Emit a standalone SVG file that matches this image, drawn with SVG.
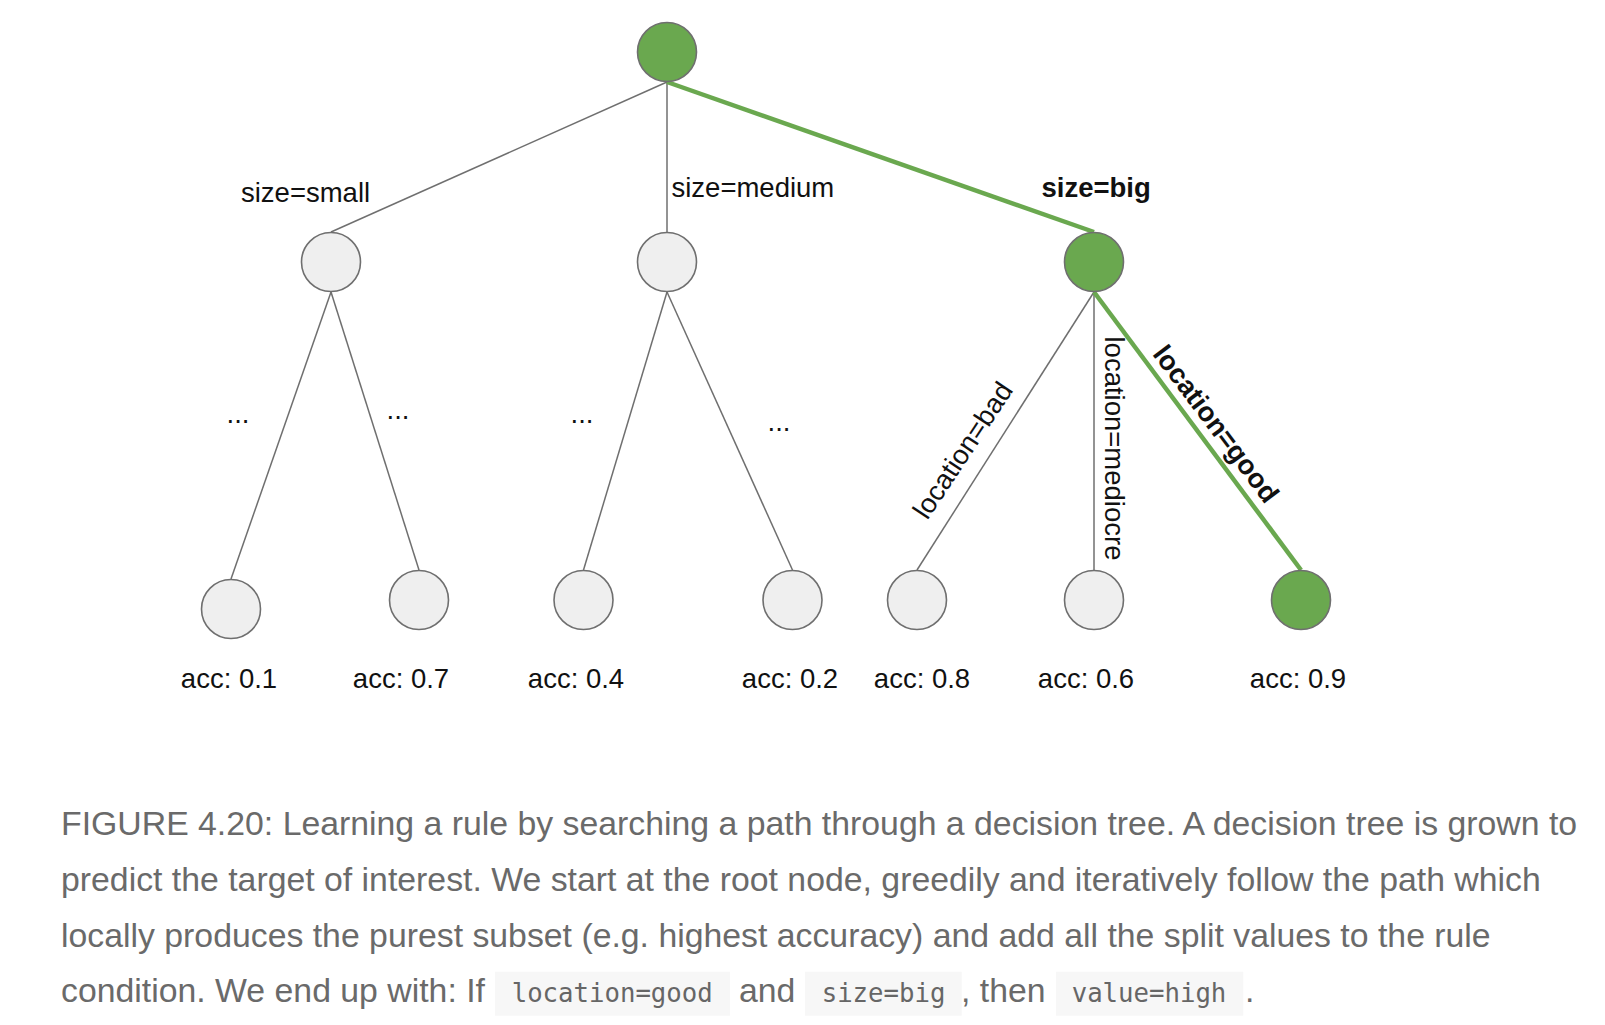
<svg xmlns="http://www.w3.org/2000/svg" width="1605" height="1025" viewBox="0 0 1605 1025">
<style>
.edge{stroke:#6f6f6f;stroke-width:1.5;fill:none}
.hot{stroke:#6aa84f;stroke-width:4.5;fill:none}
.n{fill:#efefef;stroke:#6f6f6f;stroke-width:1.6}
.g{fill:#6aa84f;stroke:#6f6f6f;stroke-width:1.6}
.lbl{font-family:"Liberation Sans",Arial,sans-serif;font-size:27.5px;fill:#111}
.b{font-weight:bold}
.acc{font-family:"Liberation Sans",Arial,sans-serif;font-size:27.5px;fill:#111;text-anchor:middle}
.cap{font-family:"Liberation Sans",Arial,sans-serif;font-size:33.8px;fill:#6a6a6a}
.code{font-family:"DejaVu Sans Mono","Liberation Mono",monospace;font-size:25.7px;fill:#666}
.cbg{fill:#f7f7f7}
</style>
<rect width="1605" height="1025" fill="#fff"/>
<g id="connectors">
<line class="edge" x1="667" y1="82" x2="331" y2="232"/>
<line class="edge" x1="667" y1="82" x2="667" y2="232"/>
<line class="edge" x1="331" y1="292" x2="231" y2="579"/>
<line class="edge" x1="331" y1="292" x2="419" y2="570"/>
<line class="edge" x1="667" y1="292" x2="583.5" y2="570"/>
<line class="edge" x1="667" y1="292" x2="792.5" y2="570"/>
<line class="edge" x1="1094" y1="292" x2="917" y2="570"/>
<line class="edge" x1="1094" y1="292" x2="1094" y2="570"/>
<line class="hot" x1="667" y1="82" x2="1094" y2="232"/>
<line class="hot" x1="1094" y1="292" x2="1301" y2="570"/>
<text class="lbl" x="241" y="202">size=small</text>
<text class="lbl" x="671.5" y="197">size=medium</text>
<text class="lbl b" x="1041.5" y="197">size=big</text>
<text class="lbl" text-anchor="middle" transform="translate(970.6 455.4) rotate(-56.5)">location=bad</text>
<text class="lbl" transform="translate(1105 336.5) rotate(90)">location=mediocre</text>
<text class="lbl b" text-anchor="middle" transform="translate(1208.5 429.5) rotate(53)">location=good</text>
</g>
<g id="root"><circle class="g" cx="667" cy="52" r="29.5"/></g>
<g id="n-small"><circle class="n" cx="331" cy="262" r="29.5"/></g>
<g id="n-medium"><circle class="n" cx="667" cy="262" r="29.5"/></g>
<g id="n-big"><circle class="g" cx="1094" cy="262" r="29.5"/></g>
<g id="leaf1"><circle class="n" cx="231" cy="609" r="29.5"/><text class="acc" x="229" y="688">acc: 0.1</text></g>
<g id="leaf2"><circle class="n" cx="419" cy="600" r="29.5"/><text class="acc" x="401" y="688">acc: 0.7</text></g>
<g id="leaf3"><circle class="n" cx="583.5" cy="600" r="29.5"/><text class="acc" x="576" y="688">acc: 0.4</text></g>
<g id="leaf4"><circle class="n" cx="792.5" cy="600" r="29.5"/><text class="acc" x="790" y="688">acc: 0.2</text></g>
<g id="leaf5"><circle class="n" cx="917" cy="600" r="29.5"/><text class="acc" x="922" y="688">acc: 0.8</text></g>
<g id="leaf6"><circle class="n" cx="1094" cy="600" r="29.5"/><text class="acc" x="1086" y="688">acc: 0.6</text></g>
<g id="leaf7"><circle class="g" cx="1301" cy="600" r="29.5"/><text class="acc" x="1298" y="688">acc: 0.9</text></g>
<g id="ellipses">
<text class="acc" x="238" y="423">...</text>
<text class="acc" x="398" y="419">...</text>
<text class="acc" x="582" y="423">...</text>
<text class="acc" x="779" y="431">...</text>
</g>
<g id="caption">
<text class="cap" x="61" y="835">FIGURE 4.20: Learning a rule by searching a path through a decision tree. A decision tree is grown to</text>
<text class="cap" x="61" y="890.8">predict the target of interest. We start at the root node, greedily and iteratively follow the path which</text>
<text class="cap" x="61" y="946.6">locally produces the purest subset (e.g. highest accuracy) and add all the split values to the rule</text>
<text class="cap" x="61" y="1002.4">condition. We end up with: If</text>
<rect class="cbg" x="495" y="971.7" width="235" height="44"/>
<text class="code" x="511.7" y="1002.4">location=good</text>
<text class="cap" x="739" y="1002.4">and</text>
<rect class="cbg" x="805" y="971.7" width="156.7" height="44"/>
<text class="code" x="821.7" y="1002.4">size=big</text>
<text class="cap" x="961" y="1002.4">, then</text>
<rect class="cbg" x="1056" y="971.7" width="187.3" height="44"/>
<text class="code" x="1071.7" y="1002.4">value=high</text>
<text class="cap" x="1245" y="1002.4">.</text>
</g>
</svg>
